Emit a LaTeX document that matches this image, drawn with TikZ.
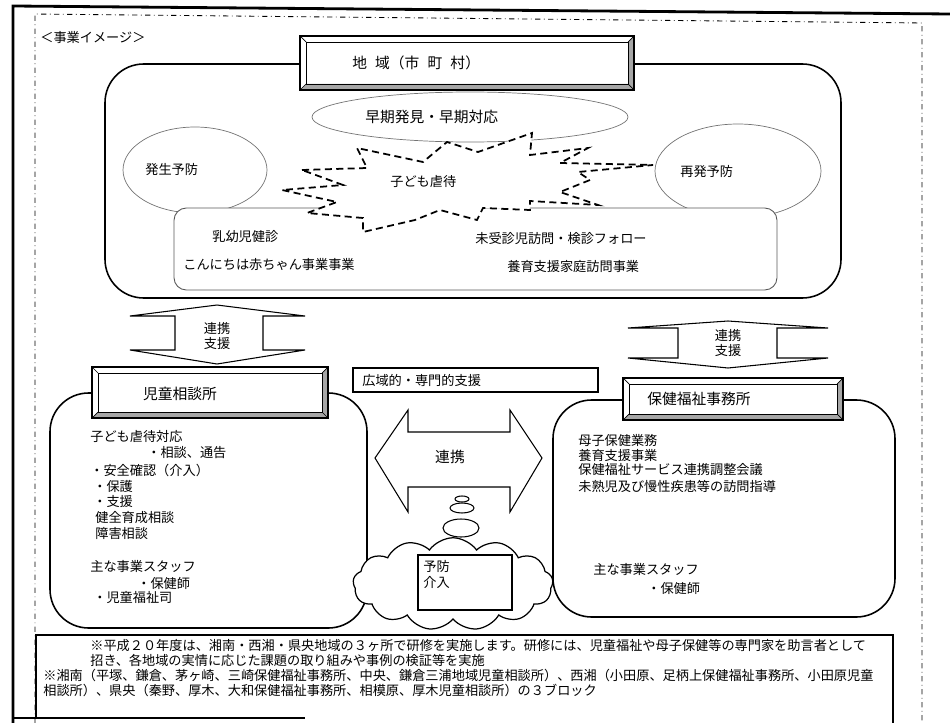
\documentclass[tikz,border=0pt]{standalone}
\usepackage{fontspec}
\newfontfamily\jpfont{Noto Sans CJK JP}
\usepackage{tikz}
\usetikzlibrary{shapes,arrows}

\begin{document}
\begin{tikzpicture}[x=0.02cm, y=-0.02cm,
        every node/.style={font=\jpfont\fontsize{7.5}{9}\selectfont, inner sep=0pt},
        headtxt/.style={font=\jpfont\fontsize{8.4}{10}\selectfont},
        panel/.style={draw, line width=0.9pt, rounded corners=22pt},
        subpanel/.style={draw=black!65, line width=0.5pt, fill=white, rounded corners=7pt},
        oval/.style={draw=black!55, line width=0.4pt},
        burst/.style={draw, fill=white, line width=1pt, dash pattern=on 4pt off 2.5pt},
        twoway/.style={draw, line width=0.6pt, fill=white},
        puff/.style={draw, line width=0.6pt, fill=white}]
        %--- Arguments ----
        \def \bv {6} % bevel width
        \def \shade {black!35} % colour of bevel sides
        \useasboundingbox (0,0) rectangle (950,723);
        %--- Frames ---
        \draw [line width=1.6pt] (13,723) -- (13,6) -- (950,14);
        \draw [line width=1.6pt] (13,718) -- (305,718);
        \draw [dash dot, line width=0.5pt] (35,723) -- (35,14) -- (922,23) -- (922,723);
        \node [right] (caption) at (40,38) {＜事業イメージ＞};
        %--- Region (city) ---
        \draw [panel] (105,64) rectangle (841,298);
        % title box
        \draw [fill=white, line width=0.8pt] (300,36) rectangle (634,90);
        \fill [\shade] (634,36) -- (634,90) -- (300,90) -- (300+\bv,90-\bv) -- (634-\bv,90-\bv) -- (634-\bv,36+\bv) -- cycle;
        \draw [line width=0.8pt] (300,36) rectangle (634,90);
        \draw (300+\bv,36+\bv) rectangle (634-\bv,90-\bv);
        \draw (300,36) -- (300+\bv,36+\bv) (634,36) -- (634-\bv,36+\bv) (300,90) -- (300+\bv,90-\bv) (634,90) -- (634-\bv,90-\bv);
        \node [right, headtxt] (city) at (352,63) {地\hspace{0.55em}域（市\hspace{0.55em}町\hspace{0.55em}村）};
        % ovals
        \draw [oval] (470,117) ellipse [x radius=158, y radius=25];
        \draw [oval] (195,170) ellipse [x radius=72, y radius=43];
        \draw [oval] (738,171) ellipse [x radius=83, y radius=47];
        % checkup box
        \draw [subpanel] (174,208) rectangle (777,290);
        % abuse burst
        \draw [burst] (302,170) -- (367,168) -- (357,148) -- (423,162) -- (447,142) -- (478,152) -- (532,133) -- (530,155) -- (588,148) -- (560,163) -- (653,165) -- (578,172) -- (590,180) -- (560,192) -- (598,205) -- (530,201) -- (530,210) -- (483,208) -- (477,220) -- (440,210) -- (415,220) -- (363,232) -- (363,218) -- (307,213) -- (337,202) -- (282,190) -- (343,185) -- cycle;
        % labels
        \node [right, headtxt] (early) at (365,117) {早期発見・早期対応};
        \node [right] (onset) at (145,170) {発生予防};
        \node [right] (relapse) at (680,172) {再発予防};
        \node [right] (abuse) at (390,182) {子ども虐待};
        \node [right] (checkup) at (212,237) {乳幼児健診};
        \node [right] (hello) at (183,265) {こんにちは赤ちゃん事業事業};
        \node [right] (followup) at (475,238) {未受診児訪問・検診フォロー};
        \node [right] (homevisit) at (507,267) {養育支援家庭訪問事業};
        %--- Vertical links ---
        \draw [twoway] (217,305) -- (305,316) -- (263,316) -- (263,350) -- (305,350) -- (217,364) -- (130,350) -- (175,350) -- (175,316) -- (130,316) -- cycle;
        \node [align=center] (linkL) at (217,336) {連携\\支援};
        \draw [twoway] (728,321) -- (828,328) -- (777,328) -- (777,358) -- (828,358) -- (728,368) -- (628,358) -- (678,358) -- (678,328) -- (628,328) -- cycle;
        \node [align=center] (linkR) at (728,343) {連携\\支援};
        %--- Child guidance centre ---
        \draw [panel] (50,393) rectangle (367,628);
        \draw [fill=white, line width=0.8pt] (92,367) rectangle (328,418);
        \fill [\shade] (328,367) -- (328,418) -- (92,418) -- (92+\bv,418-\bv) -- (328-\bv,418-\bv) -- (328-\bv,367+\bv) -- cycle;
        \draw [line width=0.8pt] (92,367) rectangle (328,418);
        \draw (92+\bv,367+\bv) rectangle (328-\bv,418-\bv);
        \draw (92,367) -- (92+\bv,367+\bv) (328,367) -- (328-\bv,367+\bv) (92,418) -- (92+\bv,418-\bv) (328,418) -- (328-\bv,418-\bv);
        \node [headtxt] (guidance) at (180,394) {児童相談所};
        \node [right] (g1) at (90,437) {子ども虐待対応};
        \node [right] (g2) at (147,453) {・相談、通告};
        \node [right] (g3) at (90,470) {・安全確認（介入）};
        \node [right] (g4) at (93,486) {・保護};
        \node [right] (g5) at (93,502) {・支援};
        \node [right] (g6) at (95,518) {健全育成相談};
        \node [right] (g7) at (95,533) {障害相談};
        \node [right] (g8) at (90,567) {主な事業スタッフ};
        \node [right] (g9) at (137,583) {・保健師};
        \node [right] (g10) at (93,598) {・児童福祉司};
        %--- Health and welfare office ---
        \draw [panel] (553,400) rectangle (895,617);
        \draw [fill=white, line width=0.8pt] (623,378) rectangle (843,420);
        \fill [\shade] (843,378) -- (843,420) -- (623,420) -- (623+\bv,420-\bv) -- (843-\bv,420-\bv) -- (843-\bv,378+\bv) -- cycle;
        \draw [line width=0.8pt] (623,378) rectangle (843,420);
        \draw (623+\bv,378+\bv) rectangle (843-\bv,420-\bv);
        \draw (623,378) -- (623+\bv,378+\bv) (843,378) -- (843-\bv,378+\bv) (623,420) -- (623+\bv,420-\bv) (843,420) -- (843-\bv,420-\bv);
        \node [right, headtxt] (office) at (647,399) {保健福祉事務所};
        \node [right] (h1) at (578,441) {母子保健業務};
        \node [right] (h2) at (578,455) {養育支援事業};
        \node [right] (h3) at (578,470) {保健福祉サービス連携調整会議};
        \node [right] (h4) at (578,486) {未熟児及び慢性疾患等の訪問指導};
        \node [right] (h5) at (593,570) {主な事業スタッフ};
        \node [right] (h6) at (647,588) {・保健師};
        %--- Middle ---
        \draw [line width=0.6pt] (353,368) rectangle (598,392);
        \node [right] (wide) at (362,380) {広域的・専門的支援};
        \draw [twoway] (375,458) -- (408,410) -- (408,432) -- (510,432) -- (510,410) -- (542,458) -- (510,512) -- (510,487) -- (408,487) -- (408,512) -- cycle;
        \node [headtxt] (link) at (450,457) {連携};
        % thought cloud
        \draw [puff] (461,528) ellipse [x radius=18, y radius=9];
        \draw [puff] (462,508) ellipse [x radius=12, y radius=5];
        \draw [puff] (462,499) ellipse [x radius=7, y radius=3];
        \node [cloud, draw, fill=white, cloud puffs=13, cloud puff arc=110, aspect=2.2, minimum width=4cm, minimum height=1.85cm, line width=0.7pt] (cloud) at (453,584) {};
        \draw [fill=white, line width=0.6pt] (418,555) rectangle (512,610);
        \node [right] (prevent) at (423,566) {予防};
        \node [right] (intervene) at (423,582) {介入};
        %--- Note ---
        \draw [line width=0.6pt] (36,719) -- (36,635) -- (893,635) -- (893,723);
        \node [right] (note1) at (90,645) {※平成２０年度は、湘南・西湘・県央地域の３ヶ所で研修を実施します。研修には、児童福祉や母子保健等の専門家を助言者として};
        \node [right] (note2) at (90,660) {招き、各地域の実情に応じた課題の取り組みや事例の検証等を実施};
        \node [right] (note3) at (43,675) {※湘南（平塚、鎌倉、茅ヶ崎、三崎保健福祉事務所、中央、鎌倉三浦地域児童相談所）、西湘（小田原、足柄上保健福祉事務所、小田原児童};
        \node [right] (note4) at (43,690) {相談所）、県央（秦野、厚木、大和保健福祉事務所、相模原、厚木児童相談所）の３ブロック};
    \end{tikzpicture}
\end{document}
